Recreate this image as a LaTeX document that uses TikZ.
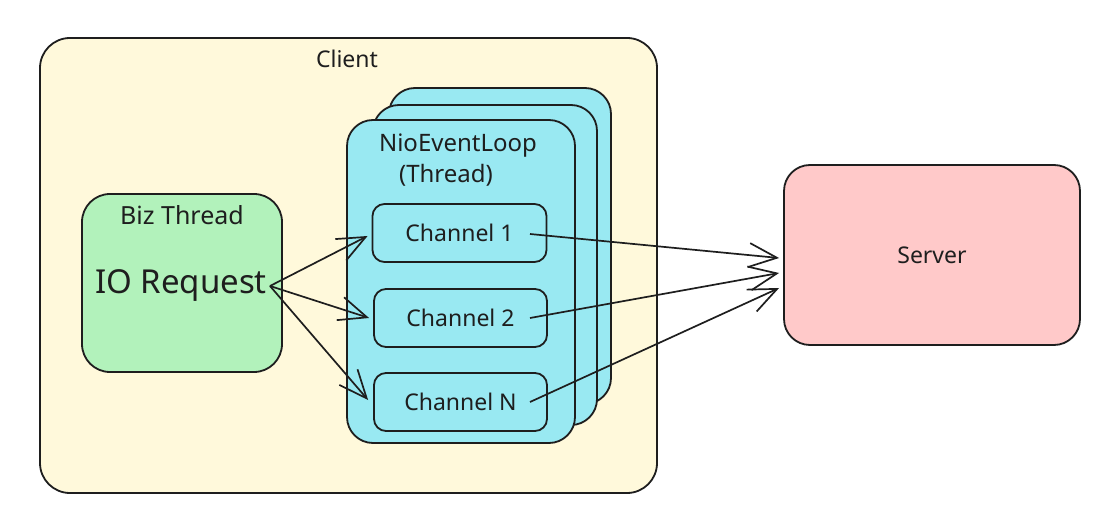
\documentclass[tikz,border=0pt]{standalone}
\usepackage{fontspec}
\setmainfont{Noto Sans}
\usetikzlibrary{arrows.meta}
\definecolor{ink}{HTML}{1E1E1E}
\definecolor{clientfill}{HTML}{FFF9DB}
\definecolor{loopfill}{HTML}{99E9F2}
\definecolor{bizfill}{HTML}{B2F2BB}
\definecolor{srvfill}{HTML}{FFC9C9}
\tikzset{
  box/.style={draw=ink, line width=1.8pt, rectangle, inner sep=0pt},
  lbl/.style={text=ink, inner sep=0pt, font=\fontsize{23}{27}\selectfont},
  conn/.style={draw=ink, line width=1.7pt, -{Straight Barb[length=28pt,width=24pt,line width=1.7pt]}},
}
\begin{document}
\begin{tikzpicture}[x=1pt,y=-1pt]
\useasboundingbox (0,0) rectangle (1108,518);
\fill[white] (0,0) rectangle (1108,518);
% client
\node[box, fill=clientfill, rounded corners=30pt, minimum width=617pt, minimum height=455pt] (client) at (348.5,265.5) {};
\node[lbl] (clientlbl) at (347,59) {Client};
% event loop stack
\node[box, fill=loopfill, rounded corners=26pt, minimum width=222pt, minimum height=316pt] (loop3) at (500,246) {};
\node[box, fill=loopfill, rounded corners=26pt, minimum width=224pt, minimum height=320pt] (loop2) at (485,265) {};
\node[box, fill=loopfill, rounded corners=26pt, minimum width=228pt, minimum height=323pt] (loop1) at (461,281.5) {};
\node[lbl, font=\fontsize{24}{28}\selectfont] (looplbl) at (458,146) {NioEventLoop};
\node[lbl, font=\fontsize{24}{28}\selectfont] (threadlbl) at (446,175) {(Thread)};
% channels
\node[box, fill=loopfill, rounded corners=12pt, minimum width=174pt, minimum height=58pt, lbl, draw=ink] (ch1) at (459.5,233) {Channel 1};
\node[box, fill=loopfill, rounded corners=12pt, minimum width=173pt, minimum height=58pt, lbl, draw=ink] (ch2) at (460.5,318) {Channel 2};
\node[box, fill=loopfill, rounded corners=12pt, minimum width=173pt, minimum height=58pt, lbl, draw=ink] (chN) at (460.5,402) {Channel N};
% biz thread
\node[box, fill=bizfill, rounded corners=28pt, minimum width=200pt, minimum height=178pt] (biz) at (182,283) {};
\node[lbl, font=\fontsize{25}{29}\selectfont] (bizlbl) at (182,215) {Biz Thread};
\node[lbl, font=\fontsize{33}{38}\selectfont] (io) at (181,285) {IO Request};
% server
\node[box, fill=srvfill, rounded corners=26pt, minimum width=296pt, minimum height=180pt, lbl, draw=ink] (srv) at (932,255) {Server};
% connectors
\coordinate (ioR) at (270,286);
\coordinate (c1o) at (530,234);
\coordinate (c2o) at (530,318);
\coordinate (cNo) at (530,402);
\draw[conn] (ioR) -- ([xshift=-4pt,yshift=-3pt]ch1.west);
\draw[conn] (ioR) -- ([xshift=-4pt]ch2.west);
\draw[conn] (ioR) -- ([xshift=-5pt,yshift=2pt]chN.west);
\draw[conn] (c1o) -- ([xshift=-4pt,yshift=-3pt]srv.west);
\draw[conn] (c2o) -- ([xshift=-4pt,yshift=-18pt]srv.west);
\draw[conn] (cNo) -- ([xshift=-4pt,yshift=-33pt]srv.west);
\end{tikzpicture}
\end{document}
